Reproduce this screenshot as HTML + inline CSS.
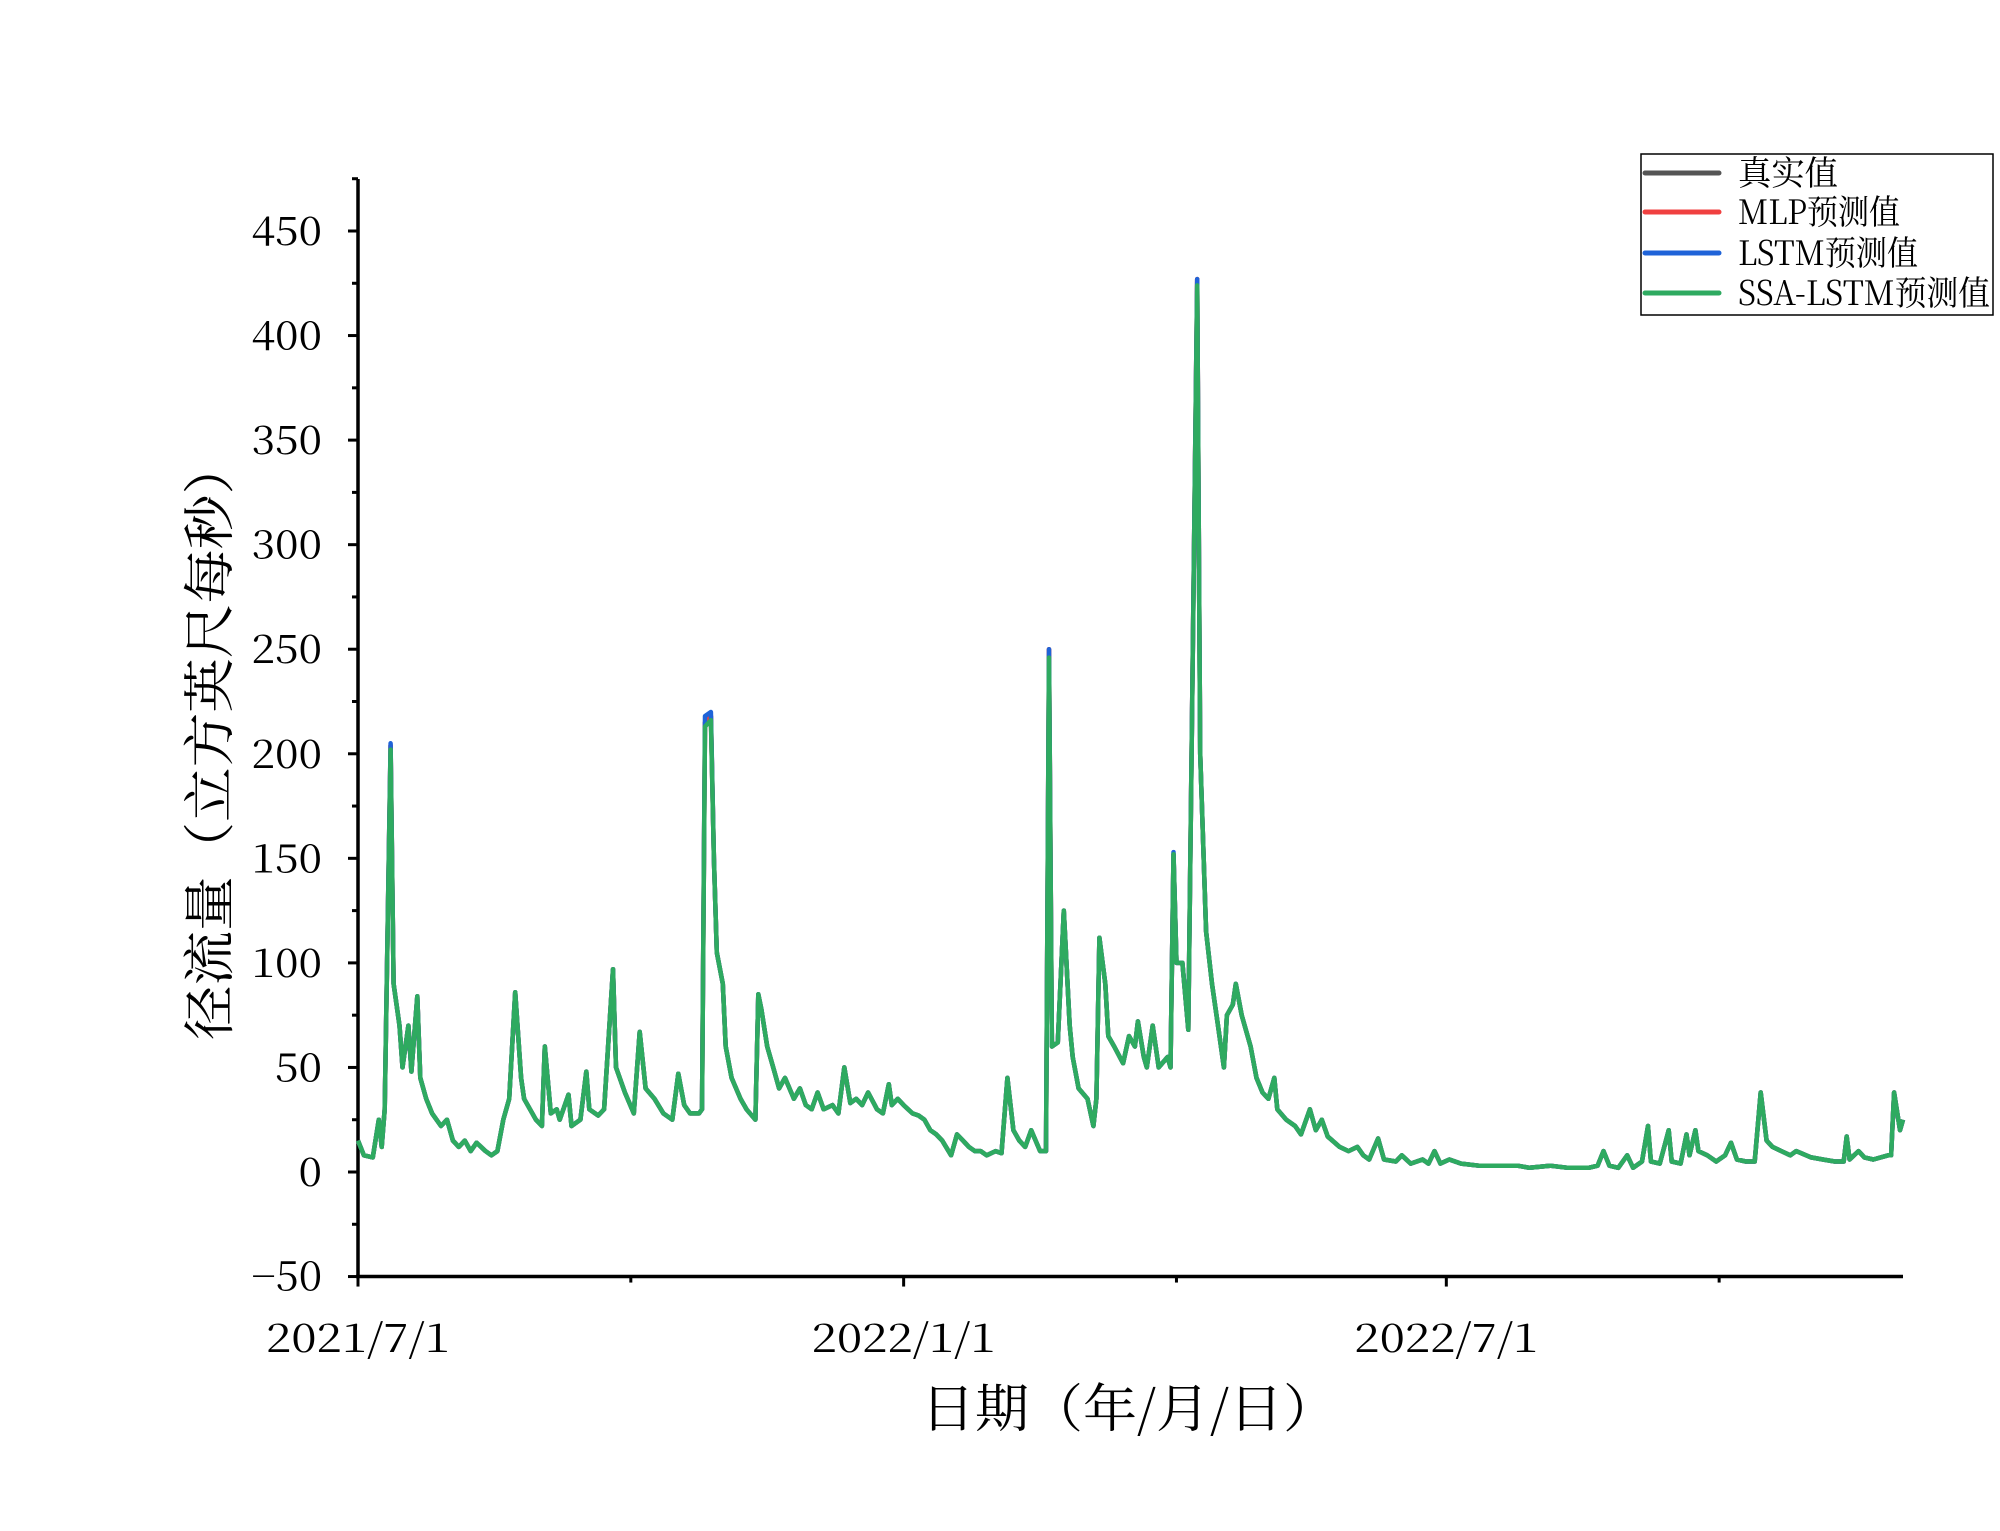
<!DOCTYPE html>
<html><head><meta charset="utf-8"><style>
html,body{margin:0;padding:0;background:#fff;}
svg{display:block;font-family:"Noto Serif CJK SC","Liberation Serif",serif;}
</style></head><body>
<svg id="chart" width="2000" height="1531" viewBox="0 0 2000 1531" xmlns="http://www.w3.org/2000/svg">
<g id="axes"></g>
<g id="series"></g>
<text transform="translate(228,740) rotate(-90)" text-anchor="middle" font-size="52" textLength="600" lengthAdjust="spacingAndGlyphs">径流量（立方英尺每秒）</text>
<text x="1129" y="1427" text-anchor="middle" font-size="52" textLength="416" lengthAdjust="spacingAndGlyphs">日期（年/月/日）</text>
<g>
<rect x="1641" y="154" width="352" height="161" fill="#fff" stroke="#000" stroke-width="1.5"/>
<g><line x1="1645" y1="173" x2="1719" y2="173" stroke="#555" stroke-width="5" stroke-linecap="round"/><text x="1738" y="185" font-size="34" textLength="100" lengthAdjust="spacingAndGlyphs">真实值</text></g>
<g><line x1="1645" y1="212" x2="1719" y2="212" stroke="#f04040" stroke-width="5" stroke-linecap="round"/><text x="1738" y="224" font-size="34" textLength="162" lengthAdjust="spacingAndGlyphs">MLP预测值</text></g>
<g><line x1="1645" y1="253" x2="1719" y2="253" stroke="#1f63d8" stroke-width="5" stroke-linecap="round"/><text x="1738" y="265" font-size="34" textLength="180" lengthAdjust="spacingAndGlyphs">LSTM预测值</text></g>
<g><line x1="1645" y1="293" x2="1719" y2="293" stroke="#2eaa60" stroke-width="5" stroke-linecap="round"/><text x="1738" y="305" font-size="34" textLength="252" lengthAdjust="spacingAndGlyphs">SSA-LSTM预测值</text></g>
</g>
</svg>
<script>
const days = [0,2,5,7,8,9,11,12,14,15,17,18,20,21,23,25,28,30,32,34,36,38,40,43,45,47,49,51,53,55,56,60,62,63,65,67,68,71,72,75,77,78,81,83,86,87,90,93,95,97,100,103,106,108,110,112,115,116,117,119,120,121,123,124,126,129,131,134,135,136,138,140,142,144,147,149,151,153,155,157,160,162,164,166,168,170,172,175,177,179,180,182,184,187,189,191,193,195,197,200,202,204,206,208,210,212,215,217,219,221,223,225,227,230,232,233,234,236,238,240,241,243,246,248,249,250,252,253,255,258,260,262,263,265,266,268,270,273,274,275,276,278,280,283,284,286,288,290,292,293,295,296,298,301,303,305,307,309,310,313,316,318,321,323,325,327,331,334,337,339,341,344,346,350,352,355,359,361,363,365,368,372,378,384,391,395,402,408,415,418,420,422,425,428,430,433,435,436,439,442,443,446,448,449,451,452,455,458,461,463,465,468,471,473,475,477,480,483,485,490,494,498,501,502,503,506,508,511,516,517,518,520,521];
const trueVals = [15,8,7,25,12,30,204,90,70,50,70,48,84,45,35,28,22,25,15,12,15,10,14,10,8,10,25,35,86,45,35,25,22,60,28,30,25,37,22,25,48,30,27,30,97,50,38,28,67,40,35,28,25,47,32,28,28,30,215,218,150,105,90,60,45,35,30,25,85,78,60,50,40,45,35,40,32,30,38,30,32,28,50,33,35,32,38,30,28,42,32,35,32,28,27,25,20,18,15,8,18,15,12,10,10,8,10,9,45,20,15,12,20,10,10,250,60,62,125,70,55,40,35,22,35,112,90,65,60,52,65,60,72,55,50,70,50,55,50,152,100,100,68,427,200,115,90,70,50,75,80,90,75,60,45,38,35,45,30,25,22,18,30,20,25,17,12,10,12,8,6,16,6,5,8,4,6,4,10,4,6,4,3,3,3,2,3,2,2,3,10,3,2,8,2,5,22,5,4,20,5,4,18,8,20,10,8,5,8,14,6,5,5,38,15,12,10,8,10,7,6,5,5,17,6,10,7,6,8,8,38,20,25];
const mlpVals = trueVals.slice();
const lstmVals = trueVals.slice();
lstmVals[6]=205; lstmVals[58]=218; lstmVals[59]=220; lstmVals[115]=250; lstmVals[139]=153;
const ssaVals = trueVals.slice();
ssaVals[6]=202; ssaVals[58]=213; ssaVals[59]=216; ssaVals[115]=246; ssaVals[143]=424;
const yTicks = [-50,0,50,100,150,200,250,300,350,400,450];
const xTickDays = [0,184,367];
const xTickLabels = ["2021/7/1","2022/1/1","2022/7/1"];
const xMinorDays = [92,276,459];

const X0=358,X1=1903,DMAX=521,Y0=1172,YPX=(1172-231)/450;
function xs(d){return X0+d*(X1-X0)/DMAX;}
function ys(v){return Y0-v*YPX;}
const NS="http://www.w3.org/2000/svg";
const axes=document.getElementById('axes');
function mk(tag,attrs,parent){const e=document.createElementNS(NS,tag);for(const k in attrs)e.setAttribute(k,attrs[k]);parent.appendChild(e);return e;}
const yTop=179, yBot=ys(-50);
let e=mk('line',{x1:X0,y1:yTop,x2:X0,y2:yBot,stroke:'#000','stroke-width':3.5},axes);


e=mk('line',{x1:X0-2,y1:yBot,x2:X1,y2:yBot,stroke:'#000','stroke-width':3.5},axes);


for(let v=-50;v<=475;v+=25){
  if(ys(v)<yTop-1)break;
  const major=(v%50===0);
  e=mk('line',{x1:X0,y1:ys(v),x2:X0-(major?10:6),y2:ys(v),stroke:'#000','stroke-width':3},axes);
  
  
}
yTicks.forEach(v=>{
  const s=(v<0?'\u2212'+(-v):String(v));
  const t=mk('text',{x:322,y:ys(v)+14,'text-anchor':'end','font-size':40,textLength:s.length*23.5,lengthAdjust:'spacingAndGlyphs'},axes);
  t.textContent=s;
  
  
});
xTickDays.forEach((d,i)=>{
  e=mk('line',{x1:xs(d),y1:yBot,x2:xs(d),y2:yBot+10,stroke:'#000','stroke-width':3},axes);
  
  
  const t=mk('text',{x:xs(d),y:1352,'text-anchor':'middle','font-size':40,textLength:184,lengthAdjust:'spacingAndGlyphs'},axes);
  t.textContent=xTickLabels[i];
  
  
});
xMinorDays.forEach(d=>{
  e=mk('line',{x1:xs(d),y1:yBot,x2:xs(d),y2:yBot+6,stroke:'#000','stroke-width':3},axes);
  
  
});
const series=document.getElementById('series');
function line(vals,color,name){
  const p=vals.map((v,i)=>xs(days[i]).toFixed(1)+','+ys(v).toFixed(1)).join(' ');
  const el=mk('polyline',{points:p,fill:'none',stroke:color,'stroke-width':4.5,'stroke-linejoin':'round'},series);
  
  
}
line(trueVals,'#555','true-series');
line(mlpVals,'#f04040','mlp-series');
line(lstmVals,'#1f63d8','lstm-series');
line(ssaVals,'#2eaa60','ssa-lstm-series');
</script>
</body></html>
